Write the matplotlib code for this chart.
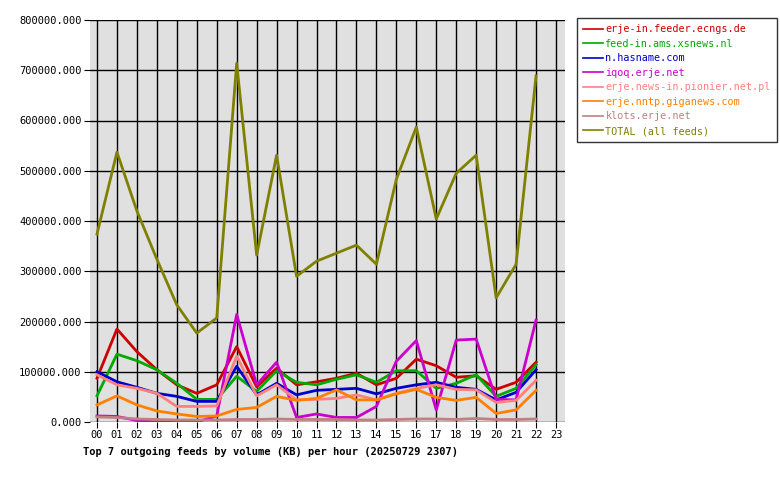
import matplotlib
matplotlib.use("Agg")
import matplotlib.pyplot as plt
from matplotlib.ticker import FuncFormatter

hours = [f"{h:02d}" for h in range(24)]
feeds = ["erje-in.feeder.ecngs.de", "feed-in.ams.xsnews.nl", "n.hasname.com", "iqoq.erje.net",
         "erje.news-in.pionier.net.pl", "erje.nntp.giganews.com", "klots.erje.net", "TOTAL (all feeds)"]
colors = ["#cc0000", "#00aa00", "#0000cc", "#cc00cc", "#ff8080", "#ff8000", "#c08080", "#808000"]

red = [87e3,185e3,140e3,104e3,74e3,57e3,74e3,150e3,70e3,107e3,74e3,80e3,87e3,97e3,74e3,87e3,125e3,112e3,89e3,92e3,65e3,79e3,119e3]
green = [52e3,135e3,122e3,104e3,77e3,45e3,45e3,91e3,61e3,102e3,79e3,74e3,85e3,94e3,79e3,102e3,102e3,67e3,77e3,94e3,51e3,67e3,114e3]
blue = [100e3,80e3,69e3,57e3,51e3,41e3,41e3,111e3,54e3,77e3,54e3,63e3,65e3,67e3,56e3,67e3,74e3,79e3,69e3,65e3,44e3,59e3,104e3]
magenta = [12e3,11e3,3e3,0,0,0,12e3,214e3,74e3,119e3,9e3,16e3,9e3,9e3,31e3,121e3,162e3,24e3,163e3,165e3,45e3,44e3,203e3]
pink = [94e3,74e3,67e3,57e3,31e3,31e3,32e3,131e3,52e3,74e3,44e3,45e3,47e3,54e3,44e3,57e3,67e3,74e3,65e3,64e3,39e3,43e3,83e3]
orange = [34e3,52e3,34e3,22e3,16e3,11e3,12e3,25e3,29e3,51e3,43e3,47e3,64e3,44e3,44e3,56e3,65e3,49e3,43e3,49e3,17e3,24e3,63e3]
klots = [10e3,9e3,6e3,5e3,4e3,4e3,4e3,5e3,5e3,6e3,5e3,5e3,5e3,4e3,4e3,5e3,6e3,6e3,5e3,7e3,5e3,5e3,6e3]
total = [374e3,537e3,420e3,324e3,233e3,177e3,207e3,714e3,332e3,531e3,290e3,320e3,336e3,352e3,314e3,483e3,587e3,404e3,495e3,531e3,247e3,314e3,689e3]
series = [red, green, blue, magenta, pink, orange, klots, total]

plt.rcParams["font.family"] = "DejaVu Sans Mono"
fig = plt.figure(figsize=(7.8, 4.8), dpi=100)
ax = fig.add_axes([90/780, 58/480, 475/780, 402/480])
ax.set_facecolor("#e0e0e0")
x = list(range(len(total)))
for s, c, n in zip(series, colors, feeds):
    ax.plot(x, s, color=c, lw=2, label=n)
ax.set_xlim(-0.35, 23.45)
ax.set_ylim(0, 800000)
ax.set_xticks(range(24))
ax.set_xticklabels(hours, fontsize=7.5)
ax.set_yticks(range(0, 800001, 100000))
ax.yaxis.set_major_formatter(FuncFormatter(lambda v, p: f"{v:.3f}" if v else "0.000"))
ax.tick_params(labelsize=7.5, length=4, color="black", pad=2)
ax.grid(True, color="black", lw=1)
ax.set_axisbelow(True)
for sp in ax.spines.values():
    sp.set_visible(False)
ax.text(-0.7, -0.075, "Top 7 outgoing feeds by volume (KB) per hour (20250729 2307)",
        transform=ax.get_xaxis_transform(), fontsize=7.5, fontweight="bold", va="center")
leg = fig.legend(loc="upper left", bbox_to_anchor=(577/780, 1 - 18/480), fontsize=7.3,
                 frameon=True, fancybox=False, edgecolor="black", handlelength=2.0,
                 handletextpad=0.2, borderpad=0.6, borderaxespad=0, labelspacing=0.45)
leg.get_frame().set_linewidth(1)
for t, c in zip(leg.get_texts(), colors):
    t.set_color(c)
for l in leg.get_lines():
    l.set_linewidth(1.2)
fig.savefig("out.png")
